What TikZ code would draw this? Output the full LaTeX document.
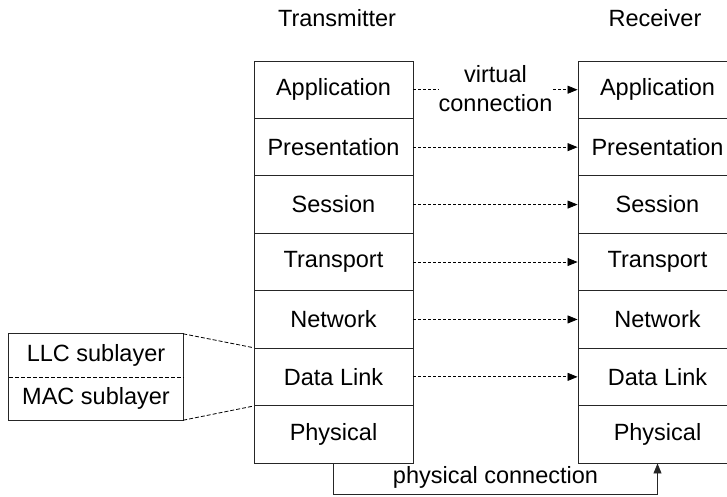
\documentclass[tikz,border=0pt]{standalone}
\usepackage{fontspec}
\setmainfont{Liberation Sans}
\usetikzlibrary{arrows.meta}
\begin{document}
\begin{tikzpicture}[x=1pt,y=-1pt,
  every node/.style={font=\fontsize{23.5}{29}\selectfont, inner sep=1pt},
  layer/.style={draw=black!85, line width=0.9pt, minimum width=159pt, minimum height=57.43pt},
  sub/.style={minimum width=174pt, minimum height=43pt},
  vlink/.style={line width=0.8pt, dash pattern=on 3pt off 2pt, -{Triangle[length=10pt,width=8pt]}},
  dline/.style={line width=0.8pt, dash pattern=on 4pt off 2pt},
  plink/.style={line width=0.9pt, draw=black!85, -{Triangle[length=10pt,width=8pt]}}]
\useasboundingbox (0,0) rectangle (727,496);
\node (tx) at (337,18) {Transmitter};
\node (rx) at (655,18) {Receiver};
\foreach \t [count=\i] in {Application,Presentation,Session,Transport,Network,Data Link,Physical} {
  \node[layer] (L\i) at (333.5,{61+57.43*(\i-0.5)}) {\t};
  \node[layer] (R\i) at (657.5,{61+57.43*(\i-0.5)}) {\t};
}
\foreach \i in {1,...,6} {
  \draw[vlink] (L\i.east) -- (R\i.west);
}
\node[fill=white, align=center, inner sep=0pt] (vc) at (495.5,89) {virtual\\connection};
\draw[plink] (L7.south) -- ++(0,31) coordinate (pc1) -| (R7.south);
\node (pc) at (495.5,477) {physical connection};
\node[sub] (LLC) at (96,355.5) {LLC sublayer};
\node[sub] (MAC) at (96,398.5) {MAC sublayer};
\draw[line width=0.9pt, draw=black!85] (LLC.north west) rectangle (MAC.south east);
\draw[dline] (LLC.south west) -- (LLC.south east);
\draw[dline] (LLC.north east) -- (L6.north west);
\draw[dline] (MAC.south east) -- (L6.south west);
\end{tikzpicture}
\end{document}
